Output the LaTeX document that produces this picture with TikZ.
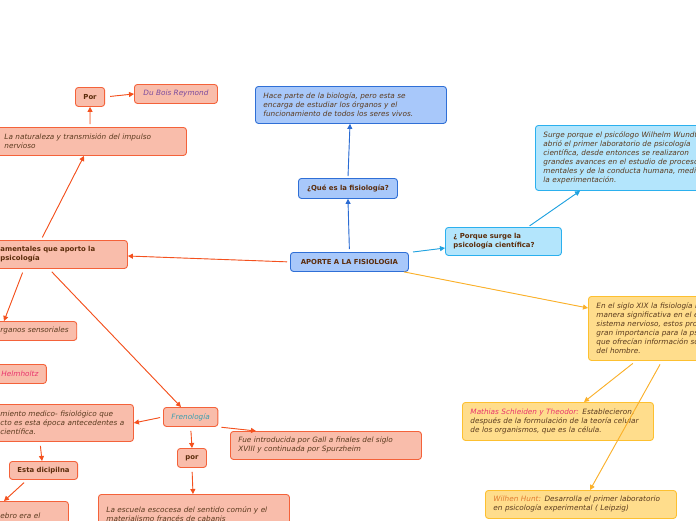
\documentclass[tikz,border=0pt]{standalone}
\usepackage{fontspec}
\setmainfont{DejaVu Sans}
\usetikzlibrary{arrows.meta}
\definecolor{salf}{HTML}{F9BDAB}
\definecolor{sald}{HTML}{F4623A}
\definecolor{sala}{HTML}{F4511E}
\definecolor{bluf}{HTML}{A8C8FA}
\definecolor{blud}{HTML}{2F6FD6}
\definecolor{blua}{HTML}{2A6BD3}
\definecolor{cyaf}{HTML}{B3E5FC}
\definecolor{cyad}{HTML}{2BB0EE}
\definecolor{cyaa}{HTML}{1FA2E0}
\definecolor{yelf}{HTML}{FFDD8C}
\definecolor{yeld}{HTML}{FDC030}
\definecolor{yela}{HTML}{FBB12B}
\definecolor{txt}{HTML}{5A3A1E}
\definecolor{ttl}{HTML}{5B2C0B}
\definecolor{pinkc}{HTML}{E8336D}
\definecolor{purc}{HTML}{7A4A9E}
\definecolor{tealc}{HTML}{3A9FB0}
\definecolor{orac}{HTML}{E07A30}
\begin{document}
\begin{tikzpicture}[x=1pt,y=-1pt,
  box/.style={draw, rounded corners=3pt, line width=0.9pt, anchor=north west,
    inner xsep=8pt, inner ysep=1pt, text=txt,
    font=\fontsize{7.3}{9}\selectfont\itshape, align=left},
  ttlbox/.style={box, text=ttl, font=\fontsize{6.9}{9}\selectfont\bfseries},
  ctr/.style={align=center},
  sal/.style={fill=salf, draw=sald},
  blu/.style={fill=bluf, draw=blud},
  cya/.style={fill=cyaf, draw=cyad},
  yel/.style={fill=yelf, draw=yeld},
  conn/.style={line width=0.9pt, -{Triangle[length=5pt,width=5pt]}},
  sarr/.style={conn, draw=sala, fill=sala},
  barr/.style={conn, draw=blua, fill=blua},
  carr/.style={conn, draw=cyaa, fill=cyaa},
  yarr/.style={conn, draw=yela, fill=yela}]
\useasboundingbox (0,0) rectangle (696,520);
\clip (0,0) rectangle (696,520);
\fill[white] (0,0) rectangle (696,520);

% blue
\node[ttlbox, blu, ctr, minimum width=118pt, minimum height=19pt] (central) at (290,252) {APORTE A LA FISIOLOGIA};
\node[ttlbox, blu, ctr, minimum width=99pt, minimum height=20pt] (que) at (298,178) {¿Qué es la fisiología?};
\node[box, blu, minimum width=191pt, text width=175pt, minimum height=37pt] (hace) at (255,86) {Hace parte de la biología, pero esta se\\encarga de estudiar los órganos y el\\funcionamiento de todos los seres vivos.};

% cyan
\node[ttlbox, cya, minimum width=116pt, text width=100pt, minimum height=28pt] (porque) at (445,227) {¿ Porque surge la\\psicología científica?};
\node[box, cya, minimum width=200pt, text width=184pt, minimum height=65pt] (surge) at (535,125) {Surge porque el psicólogo Wilhelm Wundt\\abrió el primer laboratorio de psicología\\científica, desde entonces se realizaron\\grandes avances en el estudio de procesos\\mentales y de la conducta humana, mediante\\la experimentación.};

% yellow
\node[box, yel, minimum width=190pt, text width=174pt, minimum height=64pt] (siglo) at (588,296) {En el siglo XIX la fisiología influyó de\\manera significativa en el estudio del\\sistema nervioso, estos procesos fueron de\\gran importancia para la psicología ya\\que ofrecían información sobre el cuerpo\\del hombre.};
\node[box, yel, minimum width=191pt, text width=175pt, minimum height=38pt] (mathias) at (462,402) {{\color{pinkc}Mathias Schleiden y Theodor:} Establecieron,\\después de la formulación de la teoría celular\\de los organismos, que es la célula.};
\node[box, yel, minimum width=191pt, text width=175pt, minimum height=28pt] (wilhen) at (485,490) {{\color{orac}Wilhen Hunt:} Desarrolla el primer laboratorio\\en psicología experimental ( Leipzig)};

% salmon
\node[ttlbox, sal, minimum width=135pt, text width=119pt, minimum height=28pt] (aspectos) at (-8,240) {amentales que aporto la\\psicología};
\node[box, sal, minimum width=190pt, text width=174pt, minimum height=28pt] (naturaleza) at (-4,127) {La naturaleza y transmisión del impulso\\nervioso};
\node[ttlbox, sal, ctr, minimum width=29pt, minimum height=19pt] (por1) at (75,87) {Por};
\node[box, sal, ctr, minimum width=83pt, minimum height=19pt, text=purc] (dubois) at (134,84) {Du Bois Reymond};
\node[box, sal, minimum height=19pt] (organos) at (-8,321) {rganos sensoriales};
\node[box, sal, minimum height=19pt, text=pinkc] (helm) at (-7,364) {Helmholtz};
\node[box, sal, minimum width=141pt, text width=125pt, minimum height=37pt] (conoc) at (-8,404) {miento medico- fisiológico que\\cto es esta época antecedentes a\\científica.};
\node[ttlbox, sal, ctr, minimum width=67pt, minimum height=18pt] (esta) at (9,461) {Esta dicipilna};
\node[box, sal, minimum width=76pt, text width=60pt, minimum height=40pt] (cebro) at (-8,501) {ebro era el\\que ciertas};
\node[box, sal, ctr, minimum width=54pt, minimum height=19pt, text=tealc] (freno) at (163,407) {Frenología};
\node[box, sal, minimum width=191pt, text width=175pt, minimum height=28pt] (fue) at (230,431) {Fue introducida por Gall a finales del siglo\\XVIII y continuada por Spurzheim};
\node[ttlbox, sal, ctr, minimum width=28pt, minimum height=19pt] (por2) at (177,448) {por};
\node[box, sal, minimum width=191pt, text width=175pt, minimum height=40pt] (escuela) at (98,494) {La escuela escocesa del sentido común y el\\materialismo francés de cabanis};

% connectors
\draw[barr, shorten <=3pt] (central.north) -- (que.south);
\draw[barr, shorten <=2pt] (que.north) -- (hace.south -| 350,0);
\draw[carr] (central.north east -| 413,0) -- (porque.west |- 0,248);
\draw[carr, shorten <=2pt] (porque.north -| 528,0) -- (surge.south -| 580,0);
\draw[yarr] (central.south east -| 404,0) -- (siglo.west |- 0,308);
\draw[yarr, shorten <=4pt] (siglo.south -| 636,0) -- (mathias.north -| 584,0);
\draw[yarr, shorten <=4pt] (siglo.south -| 662,0) -- (wilhen.north -| 590,0);
\draw[sarr, shorten <=3pt] (central.west) -- (aspectos.east |- 0,256);
\draw[sarr, shorten <=3pt] (aspectos.north -| 41,0) -- (naturaleza.south -| 84,0);
\draw[sarr, shorten <=3pt] (naturaleza.north -| 90,0) -- (por1.south);
\draw[sarr, shorten <=5pt] (por1.east) -- (dubois.west);
\draw[sarr, shorten <=4pt] (aspectos.south -| 24,0) -- (organos.north -| 4,0);
\draw[sarr, shorten <=4pt] (aspectos.south -| 49,0) -- (freno.north -| 181,0);
\draw[sarr, shorten <=3pt] (freno.west) -- (conoc.east);
\draw[sarr, shorten <=3pt] (freno.south east) -- (fue.north -| 256,0);
\draw[sarr, shorten <=4pt] (freno.south) -- (por2.north);
\draw[sarr, shorten <=4pt] (por2.south) -- (escuela.north -| 193,0);
\draw[sarr, shorten <=4pt] (conoc.south -| 40,0) -- (esta.north -| 42,0);
\draw[sarr, shorten <=4pt] (esta.south -| 27,0) -- (cebro.north -| 4,0);
\end{tikzpicture}
\end{document}
